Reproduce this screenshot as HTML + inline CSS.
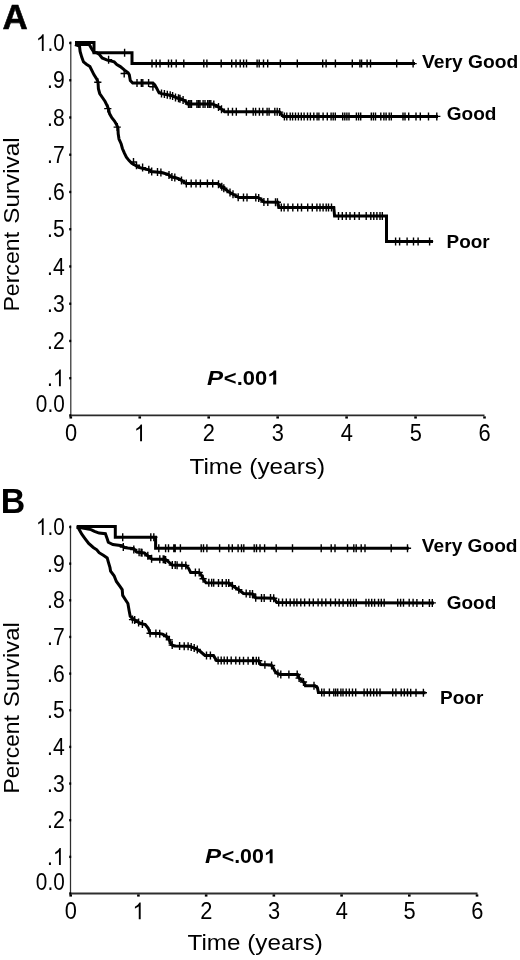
<!DOCTYPE html>
<html><head><meta charset="utf-8"><style>
html,body{margin:0;padding:0;background:#fff;}
body{width:520px;height:960px;overflow:hidden;}
svg{display:block;filter:grayscale(1);}
text{font-family:"Liberation Sans", sans-serif;fill:#000;}
</style></head><body>
<svg width="520" height="960" viewBox="0 0 520 960">
<line x1="70.75" y1="41.5" x2="70.75" y2="416.25" stroke="#555" stroke-width="1.5"/>
<line x1="70" y1="415.45" x2="484.5" y2="415.45" stroke="#2a2a2a" stroke-width="1.8"/>
<rect x="69.2" y="41.80" width="2" height="2.4" fill="#000"/>
<rect x="69.2" y="79.05" width="2" height="2.4" fill="#000"/>
<rect x="69.2" y="116.29" width="2" height="2.4" fill="#000"/>
<rect x="69.2" y="153.53" width="2" height="2.4" fill="#000"/>
<rect x="69.2" y="190.78" width="2" height="2.4" fill="#000"/>
<rect x="69.2" y="228.03" width="2" height="2.4" fill="#000"/>
<rect x="69.2" y="265.27" width="2" height="2.4" fill="#000"/>
<rect x="69.2" y="302.52" width="2" height="2.4" fill="#000"/>
<rect x="69.2" y="339.76" width="2" height="2.4" fill="#000"/>
<rect x="69.2" y="377.00" width="2" height="2.4" fill="#000"/>
<rect x="69.2" y="414.25" width="2" height="2.4" fill="#000"/>
<rect x="69.50" y="416.35" width="2.6" height="2.2" fill="#000"/>
<rect x="138.45" y="416.35" width="2.6" height="2.2" fill="#000"/>
<rect x="207.40" y="416.35" width="2.6" height="2.2" fill="#000"/>
<rect x="276.35" y="416.35" width="2.6" height="2.2" fill="#000"/>
<rect x="345.30" y="416.35" width="2.6" height="2.2" fill="#000"/>
<rect x="414.25" y="416.35" width="2.6" height="2.2" fill="#000"/>
<rect x="483.20" y="416.35" width="2.6" height="2.2" fill="#000"/>
<g transform="translate(35.95,51.10) scale(0.8800,1)"><path d="M8.76,0.00L6.69,0.00L6.69,-13.16Q5.94,-12.45 4.73,-11.74Q3.51,-11.03 2.55,-10.67L2.55,-12.67Q4.28,-13.48 5.58,-14.64Q6.87,-15.80 7.41,-16.89L8.76,-16.89Z" fill="#000"/><text x="13.07" font-size="23.5" font-weight="normal" font-style="normal" >.0</text></g>
<g transform="translate(47.06,88.34) scale(0.9000,1)"><text font-size="23.5" font-weight="normal" font-style="normal" >.9</text></g>
<g transform="translate(47.06,125.59) scale(0.9000,1)"><text font-size="23.5" font-weight="normal" font-style="normal" >.8</text></g>
<g transform="translate(47.06,162.83) scale(0.9000,1)"><text font-size="23.5" font-weight="normal" font-style="normal" >.7</text></g>
<g transform="translate(47.06,200.08) scale(0.9000,1)"><text font-size="23.5" font-weight="normal" font-style="normal" >.6</text></g>
<g transform="translate(47.06,237.32) scale(0.9000,1)"><text font-size="23.5" font-weight="normal" font-style="normal" >.5</text></g>
<g transform="translate(47.06,274.57) scale(0.9000,1)"><text font-size="23.5" font-weight="normal" font-style="normal" >.4</text></g>
<g transform="translate(47.06,311.82) scale(0.9000,1)"><text font-size="23.5" font-weight="normal" font-style="normal" >.3</text></g>
<g transform="translate(47.06,349.06) scale(0.9000,1)"><text font-size="23.5" font-weight="normal" font-style="normal" >.2</text></g>
<g transform="translate(47.06,386.31) scale(0.9000,1)"><text x="0.00" font-size="23.5" font-weight="normal" font-style="normal" >.</text><path d="M15.29,0.00L13.22,0.00L13.22,-13.16Q12.47,-12.45 11.26,-11.74Q10.04,-11.03 9.08,-10.67L9.08,-12.67Q10.81,-13.48 12.11,-14.64Q13.40,-15.80 13.94,-16.89L15.29,-16.89Z" fill="#000"/></g>
<g transform="translate(35.85,411.65) scale(0.8830,1)"><text font-size="23.5" font-weight="normal" font-style="normal" >0.0</text></g>
<g transform="translate(64.92,441.30) scale(0.9300,1)"><text font-size="23.5" font-weight="normal" font-style="normal" >0</text></g>
<g transform="translate(133.87,441.30) scale(0.9300,1)"><path d="M8.76,0.00L6.69,0.00L6.69,-13.16Q5.94,-12.45 4.73,-11.74Q3.51,-11.03 2.55,-10.67L2.55,-12.67Q4.28,-13.48 5.58,-14.64Q6.87,-15.80 7.41,-16.89L8.76,-16.89Z" fill="#000"/></g>
<g transform="translate(202.82,441.30) scale(0.9300,1)"><text font-size="23.5" font-weight="normal" font-style="normal" >2</text></g>
<g transform="translate(271.77,441.30) scale(0.9300,1)"><text font-size="23.5" font-weight="normal" font-style="normal" >3</text></g>
<g transform="translate(340.72,441.30) scale(0.9300,1)"><text font-size="23.5" font-weight="normal" font-style="normal" >4</text></g>
<g transform="translate(409.67,441.30) scale(0.9300,1)"><text font-size="23.5" font-weight="normal" font-style="normal" >5</text></g>
<g transform="translate(478.62,441.30) scale(0.9300,1)"><text font-size="23.5" font-weight="normal" font-style="normal" >6</text></g>
<g transform="translate(2.53,28.50) scale(1.0153,1)"><text font-size="34.4" font-weight="bold" font-style="normal" stroke="#000" stroke-width="0.6">A</text></g>
<text transform="translate(19.00,311.61) rotate(-90) scale(1.0372,1)" font-size="22.3">Percent</text>
<text transform="translate(19.00,223.80) rotate(-90) scale(1.0921,1)" font-size="22.3">Survival</text>
<g transform="translate(189.45,473.70) scale(1.0937,1)"><text font-size="22.25" font-weight="normal" font-style="normal" >Time (years)</text></g>
<g transform="translate(421.96,67.80) scale(1.0881,1)"><text font-size="17.7" font-weight="bold" font-style="normal" >Very Good</text></g>
<g transform="translate(446.74,119.60) scale(1.0758,1)"><text font-size="17.7" font-weight="bold" font-style="normal" >Good</text></g>
<g transform="translate(446.52,247.60) scale(1.0707,1)"><text font-size="17.7" font-weight="bold" font-style="normal" >Poor</text></g>
<g transform="translate(206.98,384.60) scale(1.2387,1)"><text font-size="19.5" font-weight="bold" font-style="italic" >P</text></g>
<g transform="translate(223.87,384.60) scale(1.1249,1)"><text x="0.00" font-size="19.5" font-weight="bold" font-style="normal" >&lt;.00</text><path d="M46.52,0.00L43.85,0.00L43.85,-10.08Q42.38,-8.71 40.39,-8.06L40.39,-10.48Q41.44,-10.83 42.67,-11.78Q43.89,-12.73 44.35,-14.02L46.52,-14.02Z" fill="#000"/></g>
<line x1="70.5" y1="525.5" x2="70.5" y2="894.3" stroke="#2e2e2e" stroke-width="1.25"/>
<line x1="70" y1="893.5" x2="477.5" y2="893.5" stroke="#2e2e2e" stroke-width="1.8"/>
<rect x="69.2" y="525.80" width="2" height="2.4" fill="#000"/>
<rect x="69.2" y="562.45" width="2" height="2.4" fill="#000"/>
<rect x="69.2" y="599.10" width="2" height="2.4" fill="#000"/>
<rect x="69.2" y="635.75" width="2" height="2.4" fill="#000"/>
<rect x="69.2" y="672.40" width="2" height="2.4" fill="#000"/>
<rect x="69.2" y="709.05" width="2" height="2.4" fill="#000"/>
<rect x="69.2" y="745.70" width="2" height="2.4" fill="#000"/>
<rect x="69.2" y="782.35" width="2" height="2.4" fill="#000"/>
<rect x="69.2" y="819.00" width="2" height="2.4" fill="#000"/>
<rect x="69.2" y="855.65" width="2" height="2.4" fill="#000"/>
<rect x="69.2" y="892.30" width="2" height="2.4" fill="#000"/>
<rect x="69.40" y="894.40" width="2.6" height="2.2" fill="#000"/>
<rect x="137.12" y="894.40" width="2.6" height="2.2" fill="#000"/>
<rect x="204.84" y="894.40" width="2.6" height="2.2" fill="#000"/>
<rect x="272.56" y="894.40" width="2.6" height="2.2" fill="#000"/>
<rect x="340.28" y="894.40" width="2.6" height="2.2" fill="#000"/>
<rect x="408.00" y="894.40" width="2.6" height="2.2" fill="#000"/>
<rect x="475.72" y="894.40" width="2.6" height="2.2" fill="#000"/>
<g transform="translate(35.95,535.10) scale(0.8800,1)"><path d="M8.76,0.00L6.69,0.00L6.69,-13.16Q5.94,-12.45 4.73,-11.74Q3.51,-11.03 2.55,-10.67L2.55,-12.67Q4.28,-13.48 5.58,-14.64Q6.87,-15.80 7.41,-16.89L8.76,-16.89Z" fill="#000"/><text x="13.07" font-size="23.5" font-weight="normal" font-style="normal" >.0</text></g>
<g transform="translate(47.06,571.75) scale(0.9000,1)"><text font-size="23.5" font-weight="normal" font-style="normal" >.9</text></g>
<g transform="translate(47.06,608.40) scale(0.9000,1)"><text font-size="23.5" font-weight="normal" font-style="normal" >.8</text></g>
<g transform="translate(47.06,645.05) scale(0.9000,1)"><text font-size="23.5" font-weight="normal" font-style="normal" >.7</text></g>
<g transform="translate(47.06,681.70) scale(0.9000,1)"><text font-size="23.5" font-weight="normal" font-style="normal" >.6</text></g>
<g transform="translate(47.06,718.35) scale(0.9000,1)"><text font-size="23.5" font-weight="normal" font-style="normal" >.5</text></g>
<g transform="translate(47.06,755.00) scale(0.9000,1)"><text font-size="23.5" font-weight="normal" font-style="normal" >.4</text></g>
<g transform="translate(47.06,791.65) scale(0.9000,1)"><text font-size="23.5" font-weight="normal" font-style="normal" >.3</text></g>
<g transform="translate(47.06,828.30) scale(0.9000,1)"><text font-size="23.5" font-weight="normal" font-style="normal" >.2</text></g>
<g transform="translate(47.06,864.95) scale(0.9000,1)"><text x="0.00" font-size="23.5" font-weight="normal" font-style="normal" >.</text><path d="M15.29,0.00L13.22,0.00L13.22,-13.16Q12.47,-12.45 11.26,-11.74Q10.04,-11.03 9.08,-10.67L9.08,-12.67Q10.81,-13.48 12.11,-14.64Q13.40,-15.80 13.94,-16.89L15.29,-16.89Z" fill="#000"/></g>
<g transform="translate(35.85,889.70) scale(0.8830,1)"><text font-size="23.5" font-weight="normal" font-style="normal" >0.0</text></g>
<g transform="translate(64.82,919.30) scale(0.9300,1)"><text font-size="23.5" font-weight="normal" font-style="normal" >0</text></g>
<g transform="translate(132.54,919.30) scale(0.9300,1)"><path d="M8.76,0.00L6.69,0.00L6.69,-13.16Q5.94,-12.45 4.73,-11.74Q3.51,-11.03 2.55,-10.67L2.55,-12.67Q4.28,-13.48 5.58,-14.64Q6.87,-15.80 7.41,-16.89L8.76,-16.89Z" fill="#000"/></g>
<g transform="translate(200.26,919.30) scale(0.9300,1)"><text font-size="23.5" font-weight="normal" font-style="normal" >2</text></g>
<g transform="translate(267.98,919.30) scale(0.9300,1)"><text font-size="23.5" font-weight="normal" font-style="normal" >3</text></g>
<g transform="translate(335.70,919.30) scale(0.9300,1)"><text font-size="23.5" font-weight="normal" font-style="normal" >4</text></g>
<g transform="translate(403.42,919.30) scale(0.9300,1)"><text font-size="23.5" font-weight="normal" font-style="normal" >5</text></g>
<g transform="translate(471.14,919.30) scale(0.9300,1)"><text font-size="23.5" font-weight="normal" font-style="normal" >6</text></g>
<g transform="translate(0.81,513.10) scale(0.9751,1)"><text font-size="34.8" font-weight="bold" font-style="normal" >B</text></g>
<text transform="translate(19.20,793.47) rotate(-90) scale(1.0185,1)" font-size="22.3">Percent</text>
<text transform="translate(19.20,707.07) rotate(-90) scale(1.0700,1)" font-size="22.3">Survival</text>
<g transform="translate(187.55,950.40) scale(1.0904,1)"><text font-size="22.25" font-weight="normal" font-style="normal" >Time (years)</text></g>
<g transform="translate(421.86,552.00) scale(1.0812,1)"><text font-size="17.7" font-weight="bold" font-style="normal" >Very Good</text></g>
<g transform="translate(446.74,609.30) scale(1.0713,1)"><text font-size="17.7" font-weight="bold" font-style="normal" >Good</text></g>
<g transform="translate(440.02,703.50) scale(1.0733,1)"><text font-size="17.7" font-weight="bold" font-style="normal" >Poor</text></g>
<g transform="translate(204.98,863.20) scale(1.2387,1)"><text font-size="19.5" font-weight="bold" font-style="italic" >P</text></g>
<g transform="translate(221.69,863.20) scale(1.0943,1)"><text x="0.00" font-size="19.5" font-weight="bold" font-style="normal" >&lt;.00</text><path d="M46.52,0.00L43.85,0.00L43.85,-10.08Q42.38,-8.71 40.39,-8.06L40.39,-10.48Q41.44,-10.83 42.67,-11.78Q43.89,-12.73 44.35,-14.02L46.52,-14.02Z" fill="#000"/></g>
<path d="M75.0,42.6 L94.0,42.6 L94.0,52.8 L132.0,52.8 L132.0,63.6 L415.0,63.6" fill="none" stroke="#000" stroke-width="3.0" stroke-linejoin="miter" stroke-miterlimit="2"/>
<path d="M75.0,44.5 L89.3,44.6 L91.6,48.7 L93.9,52.1 L96.8,52.7 L99.5,54.5 L102.1,58.0 L107.3,60.1 L114.2,61.9 L116.8,64.5 L120.3,66.6 L124.6,70.1 L128.1,72.7 L129.3,74.8 L130.3,80.6 L132.7,83.0 L152.9,83.0 L154.8,84.9 L156.7,88.3 L158.7,92.1 L161.5,93.6 L166.3,94.5 L171.2,95.5 L175.0,97.2 L180.8,99.1 L184.6,100.6 L187.5,103.5 L187.7,104.0 L212.5,104.0 L215.4,105.4 L219.2,107.3 L223.1,110.7 L224.5,111.8 L279.3,111.8 L283.3,116.4 L438.0,116.4" fill="none" stroke="#000" stroke-width="3.0" stroke-linejoin="miter" stroke-miterlimit="2"/>
<path d="M75.0,44.5 L79.5,46.0 L80.1,51.5 L81.8,57.3 L83.5,61.9 L86.4,64.2 L89.9,66.5 L92.2,71.2 L93.9,74.6 L96.8,79.2 L98.0,82.0 L98.4,88.7 L99.7,93.5 L102.4,97.5 L105.1,101.5 L107.1,105.6 L108.5,108.9 L109.5,113.6 L111.8,117.7 L114.5,121.0 L116.5,124.4 L117.9,127.8 L118.2,133.8 L119.0,139.0 L121.1,143.7 L122.4,148.5 L124.4,153.2 L126.4,157.2 L129.1,160.6 L131.8,163.3 L135.2,165.3 L138.6,167.3 L143.3,168.6 L150.0,170.0 L150.8,171.5 L161.3,172.5 L168.1,174.4 L171.0,176.8 L175.8,177.8 L179.6,179.2 L183.5,181.6 L186.3,183.6 L217.5,183.6 L220.4,185.6 L224.2,188.5 L228.1,191.3 L231.9,193.8 L235.8,195.7 L238.7,197.5 L257.7,197.5 L260.6,199.1 L263.9,202.0 L277.9,202.2 L278.8,207.5 L333.8,207.5 L334.6,216.1 L386.5,216.1 L386.5,241.4 L433.0,241.4" fill="none" stroke="#000" stroke-width="3.0" stroke-linejoin="miter" stroke-miterlimit="2"/>
<path d="M76.7,526.6 L115.3,526.6 L115.3,537.2 L155.6,537.2 L155.6,548.3 L408.8,548.3" fill="none" stroke="#000" stroke-width="3.0" stroke-linejoin="miter" stroke-miterlimit="2"/>
<path d="M76.7,527.5 L78.3,527.3 L91.0,529.6 L94.5,531.3 L99.1,533.1 L105.4,533.7 L107.2,538.8 L108.3,542.3 L112.9,544.6 L122.2,545.8 L124.5,547.5 L127.9,548.1 L133.8,548.7 L136.7,552.0 L144.4,553.0 L147.3,555.4 L152.1,559.2 L162.7,559.2 L166.5,560.2 L169.4,562.6 L172.3,565.0 L185.8,565.5 L188.7,568.6 L190.6,572.4 L199.2,572.4 L201.2,574.8 L203.1,578.7 L206.0,582.8 L228.8,582.9 L233.5,586.6 L238.8,589.8 L243.5,593.5 L252.5,594.0 L255.7,597.8 L273.7,598.2 L276.9,602.5 L434.0,602.9" fill="none" stroke="#000" stroke-width="3.0" stroke-linejoin="miter" stroke-miterlimit="2"/>
<path d="M76.7,527.6 L78.3,527.9 L81.8,534.2 L85.2,538.8 L88.7,543.5 L93.3,547.5 L96.8,549.8 L99.1,552.7 L103.7,555.6 L107.2,557.9 L108.3,561.9 L110.0,567.7 L110.6,571.2 L114.1,575.8 L116.4,581.5 L119.8,586.2 L122.2,589.6 L122.7,595.4 L125.6,600.0 L127.9,603.5 L129.1,610.4 L130.2,616.2 L131.8,617.8 L135.7,620.7 L140.5,623.5 L145.3,624.5 L148.2,628.3 L150.1,633.2 L158.8,633.6 L162.6,634.1 L166.5,636.5 L169.3,639.9 L171.3,644.7 L174.2,645.9 L189.6,646.3 L195.8,648.5 L200.4,651.5 L205.0,655.4 L213.5,655.6 L216.5,660.5 L258.7,660.8 L260.6,664.6 L271.2,665.0 L273.1,667.5 L275.0,671.3 L276.9,673.3 L279.8,674.4 L297.5,674.5 L299.1,678.1 L301.5,680.0 L304.4,682.9 L305.4,685.8 L315.0,685.8 L317.4,687.7 L318.4,692.4 L425.5,692.7" fill="none" stroke="#000" stroke-width="3.0" stroke-linejoin="miter" stroke-miterlimit="2"/>
<path d="M124.6,48.8v8M121.0,52.8h7.2M152.0,59.6v8M148.4,63.6h7.2M156.2,59.6v8M152.6,63.6h7.2M160.0,59.6v8M156.4,63.6h7.2M168.5,59.6v8M164.9,63.6h7.2M171.5,59.6v8M167.9,63.6h7.2M176.2,59.6v8M172.6,63.6h7.2M183.8,59.6v8M180.2,63.6h7.2M203.8,59.6v8M200.2,63.6h7.2M206.9,59.6v8M203.3,63.6h7.2M221.2,59.6v8M217.6,63.6h7.2M231.7,59.6v8M228.1,63.6h7.2M236.0,59.6v8M232.4,63.6h7.2M240.2,59.6v8M236.6,63.6h7.2M243.6,59.6v8M240.0,63.6h7.2M246.5,59.6v8M242.9,63.6h7.2M257.1,59.6v8M253.5,63.6h7.2M259.2,59.6v8M255.6,63.6h7.2M263.5,59.6v8M259.9,63.6h7.2M267.7,59.6v8M264.1,63.6h7.2M280.4,59.6v8M276.8,63.6h7.2M297.3,59.6v8M293.7,63.6h7.2M322.7,59.6v8M319.1,63.6h7.2M326.1,59.6v8M322.5,63.6h7.2M335.4,59.6v8M331.8,63.6h7.2M352.3,59.6v8M348.7,63.6h7.2M359.9,59.6v8M356.3,63.6h7.2M361.6,59.6v8M358.0,63.6h7.2M367.1,59.6v8M363.5,63.6h7.2M370.5,59.6v8M366.9,63.6h7.2M396.7,59.6v8M393.1,63.6h7.2M413.1,59.6v8M409.5,63.6h7.2" stroke="#000" stroke-width="1.4" fill="none"/>
<path d="M108.6,55.7v8M105.0,59.7h7.2M124.2,69.5v8M120.6,73.5h7.2M137.0,79.0v8M133.4,83.0h7.2M141.3,79.0v8M137.7,83.0h7.2M142.8,79.0v8M139.2,83.0h7.2M148.6,79.0v8M145.0,83.0h7.2M152.9,82.8v8M149.3,86.8h7.2M161.5,89.6v8M157.9,93.6h7.2M164.4,90.1v8M160.8,94.1h7.2M167.3,90.7v8M163.7,94.7h7.2M170.2,91.3v8M166.6,95.3h7.2M172.6,92.1v8M169.0,96.1h7.2M175.5,93.4v8M171.9,97.4h7.2M178.5,94.3v8M174.9,98.3h7.2M180.0,94.8v8M176.4,98.8h7.2M183.1,96.0v8M179.5,100.0h7.2M188.5,100.0v8M184.9,104.0h7.2M190.0,100.0v8M186.4,104.0h7.2M191.5,100.0v8M187.9,104.0h7.2M196.9,100.0v8M193.3,104.0h7.2M198.5,100.0v8M194.9,104.0h7.2M200.0,100.0v8M196.4,104.0h7.2M203.1,100.0v8M199.5,104.0h7.2M205.0,100.0v8M201.4,104.0h7.2M207.7,100.0v8M204.1,104.0h7.2M209.3,100.0v8M205.7,104.0h7.2M210.8,100.0v8M207.2,104.0h7.2M213.8,100.6v8M210.2,104.6h7.2M218.5,103.0v8M214.9,107.0h7.2M221.5,105.3v8M217.9,109.3h7.2M228.2,107.8v8M224.6,111.8h7.2M232.5,107.8v8M228.9,111.8h7.2M236.3,107.8v8M232.7,111.8h7.2M246.4,107.8v8M242.8,111.8h7.2M253.2,107.8v8M249.6,111.8h7.2M255.6,107.8v8M252.0,111.8h7.2M259.4,107.8v8M255.8,111.8h7.2M262.8,107.8v8M259.2,111.8h7.2M267.1,107.8v8M263.5,111.8h7.2M269.1,107.8v8M265.5,111.8h7.2M274.8,107.8v8M271.2,111.8h7.2M277.2,107.8v8M273.6,111.8h7.2M279.6,108.1v8M276.0,112.1h7.2M284.4,112.4v8M280.8,116.4h7.2M286.8,112.4v8M283.2,116.4h7.2M290.2,112.4v8M286.6,116.4h7.2M292.6,112.4v8M289.0,116.4h7.2M295.5,112.4v8M291.9,116.4h7.2M298.4,112.4v8M294.8,116.4h7.2M301.3,112.4v8M297.7,116.4h7.2M304.1,112.4v8M300.5,116.4h7.2M307.5,112.4v8M303.9,116.4h7.2M310.4,112.4v8M306.8,116.4h7.2M313.8,112.4v8M310.2,116.4h7.2M317.1,112.4v8M313.5,116.4h7.2M318.9,112.4v8M315.3,116.4h7.2M323.1,112.4v8M319.5,116.4h7.2M327.3,112.4v8M323.7,116.4h7.2M331.1,112.4v8M327.5,116.4h7.2M333.2,112.4v8M329.6,116.4h7.2M335.3,112.4v8M331.7,116.4h7.2M342.7,112.4v8M339.1,116.4h7.2M344.8,112.4v8M341.2,116.4h7.2M346.9,112.4v8M343.3,116.4h7.2M349.0,112.4v8M345.4,116.4h7.2M356.4,112.4v8M352.8,116.4h7.2M358.6,112.4v8M355.0,116.4h7.2M360.7,112.4v8M357.1,116.4h7.2M371.3,112.4v8M367.7,116.4h7.2M373.4,112.4v8M369.8,116.4h7.2M375.5,112.4v8M371.9,116.4h7.2M380.8,112.4v8M377.2,116.4h7.2M383.9,112.4v8M380.3,116.4h7.2M386.1,112.4v8M382.5,116.4h7.2M389.2,112.4v8M385.6,116.4h7.2M391.3,112.4v8M387.7,116.4h7.2M403.0,112.4v8M399.4,116.4h7.2M405.0,112.4v8M401.4,116.4h7.2M408.7,112.4v8M405.1,116.4h7.2M416.0,112.4v8M412.4,116.4h7.2M420.3,112.4v8M416.7,116.4h7.2M428.5,112.4v8M424.9,116.4h7.2M436.8,112.4v8M433.2,116.4h7.2" stroke="#000" stroke-width="1.4" fill="none"/>
<path d="M97.8,78.2v8M94.2,82.2h7.2M107.8,104.6v8M104.2,108.6h7.2M117.2,123.1v8M113.6,127.1h7.2M133.5,158.0v8M129.9,162.0h7.2M136.5,161.3v8M132.9,165.3h7.2M142.6,163.6v8M139.0,167.6h7.2M148.8,165.7v8M145.2,169.7h7.2M151.7,167.6v8M148.1,171.6h7.2M157.5,168.1v8M153.9,172.1h7.2M160.9,168.5v8M157.3,172.5h7.2M169.0,171.1v8M165.4,175.1h7.2M171.9,173.0v8M168.3,177.0h7.2M174.8,173.6v8M171.2,177.6h7.2M181.5,176.4v8M177.9,180.4h7.2M186.3,179.6v8M182.7,183.6h7.2M191.2,179.6v8M187.6,183.6h7.2M196.0,179.6v8M192.4,183.6h7.2M200.4,179.6v8M196.8,183.6h7.2M207.4,179.6v8M203.8,183.6h7.2M212.7,179.6v8M209.1,183.6h7.2M218.5,180.3v8M214.9,184.3h7.2M221.8,182.7v8M218.2,186.7h7.2M223.8,184.2v8M220.2,188.2h7.2M230.0,188.6v8M226.4,192.6h7.2M233.0,190.3v8M229.4,194.3h7.2M238.2,193.2v8M234.6,197.2h7.2M243.5,193.5v8M239.9,197.5h7.2M247.0,193.5v8M243.4,197.5h7.2M255.8,193.5v8M252.2,197.5h7.2M258.7,194.1v8M255.1,198.1h7.2M263.9,198.0v8M260.3,202.0h7.2M267.8,198.1v8M264.2,202.1h7.2M275.5,198.2v8M271.9,202.2h7.2M277.4,198.2v8M273.8,202.2h7.2M281.3,203.5v8M277.7,207.5h7.2M284.1,203.5v8M280.5,207.5h7.2M288.0,203.5v8M284.4,207.5h7.2M292.8,203.5v8M289.2,207.5h7.2M297.7,203.5v8M294.1,207.5h7.2M301.5,203.5v8M297.9,207.5h7.2M307.7,203.5v8M304.1,207.5h7.2M312.3,203.5v8M308.7,207.5h7.2M316.9,203.5v8M313.3,207.5h7.2M320.0,203.5v8M316.4,207.5h7.2M323.1,203.5v8M319.5,207.5h7.2M326.2,203.5v8M322.6,207.5h7.2M328.5,203.5v8M324.9,207.5h7.2M331.5,203.5v8M327.9,207.5h7.2M338.5,212.1v8M334.9,216.1h7.2M342.3,212.1v8M338.7,216.1h7.2M346.2,212.1v8M342.6,216.1h7.2M350.0,212.1v8M346.4,216.1h7.2M354.6,212.1v8M351.0,216.1h7.2M359.2,212.1v8M355.6,216.1h7.2M366.2,212.1v8M362.6,216.1h7.2M370.8,212.1v8M367.2,216.1h7.2M373.8,212.1v8M370.2,216.1h7.2M376.9,212.1v8M373.3,216.1h7.2M380.0,212.1v8M376.4,216.1h7.2M382.3,212.1v8M378.7,216.1h7.2M395.6,237.4v8M392.0,241.4h7.2M399.6,237.4v8M396.0,241.4h7.2M407.1,237.4v8M403.5,241.4h7.2M413.5,237.4v8M409.9,241.4h7.2M418.1,237.4v8M414.5,241.4h7.2M429.6,237.4v8M426.0,241.4h7.2" stroke="#000" stroke-width="1.4" fill="none"/>
<path d="M122.7,533.2v8M119.1,537.2h7.2M150.8,533.2v8M147.2,537.2h7.2M153.8,533.2v8M150.2,537.2h7.2M158.8,544.3v8M155.2,548.3h7.2M165.6,544.3v8M162.0,548.3h7.2M168.5,544.3v8M164.9,548.3h7.2M173.8,544.3v8M170.2,548.3h7.2M175.2,544.3v8M171.6,548.3h7.2M180.4,544.3v8M176.8,548.3h7.2M201.2,544.3v8M197.6,548.3h7.2M203.5,544.3v8M199.9,548.3h7.2M206.9,544.3v8M203.3,548.3h7.2M219.6,544.3v8M216.0,548.3h7.2M228.8,544.3v8M225.2,548.3h7.2M232.3,544.3v8M228.7,548.3h7.2M238.1,544.3v8M234.5,548.3h7.2M241.5,544.3v8M237.9,548.3h7.2M243.8,544.3v8M240.2,548.3h7.2M254.2,544.3v8M250.6,548.3h7.2M256.5,544.3v8M252.9,548.3h7.2M260.0,544.3v8M256.4,548.3h7.2M264.6,544.3v8M261.0,548.3h7.2M276.2,544.3v8M272.6,548.3h7.2M292.5,544.3v8M288.9,548.3h7.2M321.2,544.3v8M317.6,548.3h7.2M331.2,544.3v8M327.6,548.3h7.2M335.0,544.3v8M331.4,548.3h7.2M347.5,544.3v8M343.9,548.3h7.2M353.8,544.3v8M350.2,548.3h7.2M356.2,544.3v8M352.6,548.3h7.2M361.2,544.3v8M357.6,548.3h7.2M365.0,544.3v8M361.4,548.3h7.2M391.2,544.3v8M387.6,548.3h7.2M407.5,544.3v8M403.9,548.3h7.2" stroke="#000" stroke-width="1.4" fill="none"/>
<path d="M123.3,543.0v8M119.7,547.0h7.2M133.8,545.5v8M130.2,549.5h7.2M139.1,548.3v8M135.5,552.3h7.2M141.1,548.6v8M137.5,552.6h7.2M142.0,548.7v8M138.4,552.7h7.2M147.8,551.8v8M144.2,555.8h7.2M151.6,554.8v8M148.0,558.8h7.2M159.8,555.2v8M156.2,559.2h7.2M163.2,555.3v8M159.6,559.3h7.2M164.4,555.6v8M160.8,559.6h7.2M165.6,556.0v8M162.0,560.0h7.2M172.3,561.0v8M168.7,565.0h7.2M175.2,561.1v8M171.6,565.1h7.2M177.1,561.2v8M173.5,565.2h7.2M181.9,561.4v8M178.3,565.4h7.2M185.8,561.5v8M182.2,565.5h7.2M195.4,568.4v8M191.8,572.4h7.2M199.2,568.4v8M195.6,572.4h7.2M203.1,574.7v8M199.5,578.7h7.2M208.8,578.8v8M205.2,582.8h7.2M211.7,578.8v8M208.1,582.8h7.2M213.7,578.8v8M210.1,582.8h7.2M218.5,578.9v8M214.9,582.9h7.2M222.3,578.9v8M218.7,582.9h7.2M226.2,578.9v8M222.6,582.9h7.2M228.7,578.9v8M225.1,582.9h7.2M232.4,581.7v8M228.8,585.7h7.2M238.8,585.8v8M235.2,589.8h7.2M246.2,589.6v8M242.6,593.6h7.2M249.9,589.9v8M246.3,593.9h7.2M252.5,590.0v8M248.9,594.0h7.2M255.7,593.8v8M252.1,597.8h7.2M261.5,593.9v8M257.9,597.9h7.2M264.2,594.0v8M260.6,598.0h7.2M270.5,594.1v8M266.9,598.1h7.2M273.7,594.2v8M270.1,598.2h7.2M278.7,598.5v8M275.1,602.5h7.2M282.5,598.5v8M278.9,602.5h7.2M286.3,598.5v8M282.7,602.5h7.2M290.2,598.5v8M286.6,602.5h7.2M294.0,598.5v8M290.4,602.5h7.2M296.9,598.6v8M293.3,602.6h7.2M300.8,598.6v8M297.2,602.6h7.2M304.6,598.6v8M301.0,602.6h7.2M309.4,598.6v8M305.8,602.6h7.2M313.3,598.6v8M309.7,602.6h7.2M318.1,598.6v8M314.5,602.6h7.2M321.9,598.6v8M318.3,602.6h7.2M325.8,598.6v8M322.2,602.6h7.2M330.6,598.6v8M327.0,602.6h7.2M335.4,598.6v8M331.8,602.6h7.2M339.2,598.7v8M335.6,602.7h7.2M343.1,598.7v8M339.5,602.7h7.2M347.7,598.7v8M344.1,602.7h7.2M350.6,598.7v8M347.0,602.7h7.2M353.5,598.7v8M349.9,602.7h7.2M356.3,598.7v8M352.7,602.7h7.2M366.0,598.7v8M362.4,602.7h7.2M368.8,598.7v8M365.2,602.7h7.2M371.7,598.7v8M368.1,602.7h7.2M374.6,598.7v8M371.0,602.7h7.2M378.5,598.8v8M374.9,602.8h7.2M381.3,598.8v8M377.7,602.8h7.2M384.2,598.8v8M380.6,602.8h7.2M397.7,598.8v8M394.1,602.8h7.2M400.6,598.8v8M397.0,602.8h7.2M403.5,598.8v8M399.9,602.8h7.2M409.2,598.8v8M405.6,602.8h7.2M413.1,598.8v8M409.5,602.8h7.2M416.9,598.9v8M413.3,602.9h7.2M422.7,598.9v8M419.1,602.9h7.2M429.4,598.9v8M425.8,602.9h7.2M432.3,598.9v8M428.7,602.9h7.2" stroke="#000" stroke-width="1.4" fill="none"/>
<path d="M132.5,615.6v8M128.9,619.6h7.2M134.7,616.0v8M131.1,620.0h7.2M138.6,618.4v8M135.0,622.4h7.2M142.4,619.9v8M138.8,623.9h7.2M150.1,629.2v8M146.5,633.2h7.2M155.9,629.5v8M152.3,633.5h7.2M159.7,629.7v8M156.1,633.7h7.2M166.5,632.5v8M162.9,636.5h7.2M169.3,635.9v8M165.7,639.9h7.2M172.2,641.1v8M168.6,645.1h7.2M179.6,642.0v8M176.0,646.0h7.2M184.2,642.2v8M180.6,646.2h7.2M188.1,642.3v8M184.5,646.3h7.2M191.2,642.9v8M187.6,646.9h7.2M194.2,643.9v8M190.6,647.9h7.2M197.3,645.5v8M193.7,649.5h7.2M206.5,651.4v8M202.9,655.4h7.2M210.4,651.5v8M206.8,655.5h7.2M218.1,656.5v8M214.5,660.5h7.2M221.2,656.5v8M217.6,660.5h7.2M224.2,656.6v8M220.6,660.6h7.2M227.3,656.6v8M223.7,660.6h7.2M231.2,656.6v8M227.6,660.6h7.2M235.8,656.6v8M232.2,660.6h7.2M239.6,656.7v8M236.0,660.7h7.2M243.5,656.7v8M239.9,660.7h7.2M248.1,656.7v8M244.5,660.7h7.2M252.7,656.8v8M249.1,660.8h7.2M253.4,656.8v8M249.8,660.8h7.2M256.3,656.8v8M252.7,660.8h7.2M258.7,656.8v8M255.1,660.8h7.2M264.9,660.8v8M261.3,664.8h7.2M271.6,661.5v8M268.0,665.5h7.2M277.9,669.5v8M274.3,673.5h7.2M280.8,670.4v8M277.2,674.4h7.2M288.9,670.5v8M285.3,674.5h7.2M297.2,670.5v8M293.6,674.5h7.2M299.1,674.1v8M295.5,678.1h7.2M303.5,678.0v8M299.9,682.0h7.2M314.0,681.8v8M310.4,685.8h7.2M321.7,688.4v8M318.1,692.4h7.2M324.1,688.4v8M320.5,692.4h7.2M329.4,688.4v8M325.8,692.4h7.2M333.8,688.4v8M330.2,692.4h7.2M335.7,688.4v8M332.1,692.4h7.2M337.7,688.5v8M334.1,692.5h7.2M340.9,688.5v8M337.3,692.5h7.2M343.0,688.5v8M339.4,692.5h7.2M346.2,688.5v8M342.6,692.5h7.2M349.3,688.5v8M345.7,692.5h7.2M352.5,688.5v8M348.9,692.5h7.2M355.7,688.5v8M352.1,692.5h7.2M364.1,688.5v8M360.5,692.5h7.2M367.3,688.5v8M363.7,692.5h7.2M370.5,688.5v8M366.9,692.5h7.2M373.7,688.6v8M370.1,692.6h7.2M376.8,688.6v8M373.2,692.6h7.2M380.0,688.6v8M376.4,692.6h7.2M392.7,688.6v8M389.1,692.6h7.2M395.9,688.6v8M392.3,692.6h7.2M401.2,688.6v8M397.6,692.6h7.2M404.3,688.6v8M400.7,692.6h7.2M407.5,688.6v8M403.9,692.6h7.2M410.7,688.7v8M407.1,692.7h7.2M416.0,688.7v8M412.4,692.7h7.2M423.4,688.7v8M419.8,692.7h7.2" stroke="#000" stroke-width="1.4" fill="none"/>
</svg>
</body></html>
